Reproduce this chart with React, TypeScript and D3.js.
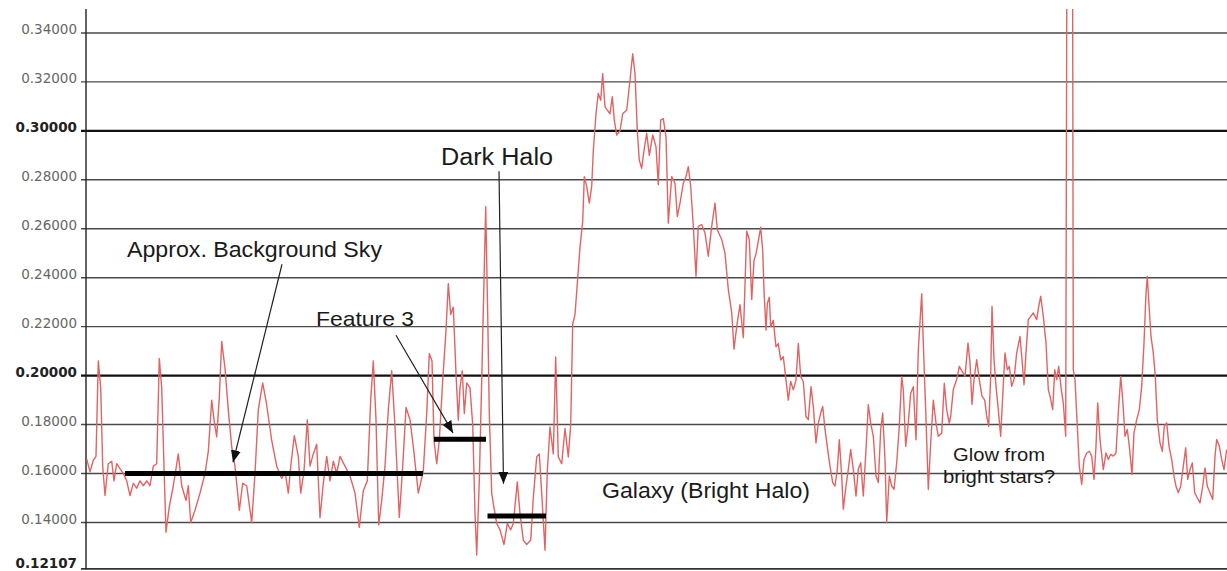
import React from "react";
import * as d3 from "d3";

// Profile samples: [position along profile, intensity]
const skyProfile: [number, number][] = [
  [0.7, 0.166], [4, 0.1607], [7.3, 0.1654], [10, 0.167], [12.3, 0.206], [14.7, 0.195], [16.7, 0.163],
  [19, 0.151], [22.3, 0.164], [25.7, 0.165], [28, 0.157], [30.7, 0.164], [34, 0.162], [37.3, 0.16],
  [40.7, 0.157], [44, 0.151], [47.3, 0.156], [50.7, 0.154], [54, 0.157], [57.3, 0.155], [60.7, 0.157],
  [64, 0.155], [67.3, 0.163], [70.7, 0.164], [73.3, 0.207], [75.7, 0.195], [78, 0.163], [80, 0.136],
  [83.3, 0.1465], [87.3, 0.155], [92.3, 0.168], [95.7, 0.155], [100, 0.149], [102.3, 0.155], [104.7, 0.14],
  [109, 0.145], [114, 0.152], [119, 0.16], [122.3, 0.169], [125.7, 0.19], [128, 0.182], [130.7, 0.175],
  [133.3, 0.191], [135.7, 0.214], [139, 0.203], [142.3, 0.186], [145.7, 0.171], [149, 0.163], [153.3, 0.145],
  [156.7, 0.156], [160.7, 0.155], [165.7, 0.14], [169, 0.16], [172.3, 0.186], [176.7, 0.197], [180.7, 0.188],
  [185.7, 0.1735], [190.7, 0.163], [195.7, 0.158], [199, 0.161], [202.3, 0.152], [205, 0.164], [208.3, 0.1755],
  [212.3, 0.167], [214.7, 0.152], [218, 0.161], [221.3, 0.182], [224, 0.163], [227.3, 0.168], [230.7, 0.172],
  [234, 0.142], [237.3, 0.156], [240.7, 0.167], [244, 0.157], [247.3, 0.165], [250.7, 0.16], [254, 0.167],
  [259, 0.163], [264, 0.159], [269, 0.152], [273.3, 0.138], [277.3, 0.153], [281.3, 0.157], [284.7, 0.19],
  [287.3, 0.206], [290, 0.182], [292.7, 0.139], [295.7, 0.149], [299, 0.163], [302.3, 0.186], [305.7, 0.202],
  [309, 0.179], [313.3, 0.142], [316.7, 0.163], [320, 0.187], [324, 0.182], [327.3, 0.171], [332.3, 0.152],
];

const featureProfile: [number, number][] = [
  [337.3, 0.161], [340.7, 0.1845], [343.3, 0.209], [346, 0.206], [348, 0.1736], [350.7, 0.164], [353.3, 0.1736],
  [356.7, 0.198], [360, 0.2185], [362.3, 0.2376], [364.7, 0.225], [367.3, 0.228], [370, 0.2008], [372.3, 0.1818],
  [374, 0.195], [376.3, 0.202], [378.3, 0.1845], [380.7, 0.197], [384, 0.195], [386.7, 0.18], [389, 0.1437],
  [390.7, 0.1267], [393.3, 0.157], [395.7, 0.198], [398, 0.239], [399.7, 0.269], [401.7, 0.225], [403.3, 0.1845],
];

const darkHaloProfile: [number, number][] = [
  [405.7, 0.152], [408, 0.146], [410.7, 0.1396], [414, 0.137], [418, 0.131], [421.3, 0.1396], [424.7, 0.137],
  [427.3, 0.1396], [431.3, 0.1566], [434, 0.1437], [437.3, 0.1328], [440.7, 0.131], [444.7, 0.1328], [447.3, 0.15],
  [450.7, 0.1668], [453.3, 0.168], [455.7, 0.152], [459, 0.1287], [461.3, 0.161], [464, 0.179], [467.3, 0.168],
  [469.7, 0.2076], [472.3, 0.1668], [475.7, 0.164], [479, 0.1784], [482.3, 0.1668], [484.7, 0.18],
];

const galaxyProfile: [number, number][] = [
  [486.7, 0.221], [489, 0.225], [491.3, 0.2376], [494, 0.2525], [496.7, 0.263], [498.3, 0.2813], [500.7, 0.2773],
  [503.3, 0.2705], [505.7, 0.2773], [507.3, 0.292], [510, 0.307], [512.3, 0.3153], [514.7, 0.3125], [516.7, 0.3234],
  [519, 0.3098], [521.3, 0.3085], [524, 0.307], [526.3, 0.314], [528.3, 0.3044], [530.7, 0.2983], [534, 0.3],
  [536.7, 0.307], [540.7, 0.3085], [544, 0.3207], [546.7, 0.3315], [549, 0.3234], [551.3, 0.3], [553.3, 0.288],
  [555.7, 0.2847], [558, 0.292], [560.7, 0.299], [563.3, 0.29], [566.7, 0.2983], [570, 0.2935], [572.3, 0.278],
  [574.7, 0.3044], [577.3, 0.305], [580, 0.2976], [582.3, 0.2623], [585.7, 0.2813], [589, 0.2786], [591.3, 0.265],
  [594, 0.2705], [597.3, 0.2786], [600, 0.2813], [602.3, 0.2854], [604.7, 0.2773], [607.3, 0.261], [610, 0.2406],
  [612.3, 0.261], [615.7, 0.2617], [619, 0.2583], [622.3, 0.2488], [625.7, 0.261], [629, 0.2705], [631.3, 0.2596],
  [635.7, 0.2556], [639, 0.25], [642.3, 0.2352], [645.7, 0.2257], [648, 0.2108], [650.7, 0.22], [654, 0.229],
  [657.3, 0.2155], [660.7, 0.259], [663.3, 0.2556], [665.7, 0.2311], [668, 0.247], [670, 0.2497], [672.3, 0.255],
  [674.7, 0.2606], [676.7, 0.251], [678, 0.2348], [680, 0.2186], [681.3, 0.2294], [683.3, 0.232], [684.7, 0.22],
  [687.3, 0.2226], [690, 0.2118], [692.3, 0.2131], [694.7, 0.2064], [697.3, 0.2077], [700, 0.1982], [702.3, 0.19],
  [704.7, 0.1976], [707.3, 0.1942], [710, 0.1982], [712.3, 0.2131], [714.7, 0.1996], [717.3, 0.1976], [720, 0.1833],
  [722.3, 0.182], [725, 0.1955], [727.3, 0.1874], [730, 0.1725], [732.3, 0.1806], [734.7, 0.1847], [736.7, 0.1874],
  [739, 0.178], [741.7, 0.1698], [744, 0.163], [746.7, 0.1563], [749, 0.1549], [751.3, 0.1617], [753.3, 0.1738],
  [755.7, 0.159], [757.3, 0.1454], [760, 0.1549], [762.3, 0.1617], [764.7, 0.1698], [767.3, 0.1617], [770, 0.1508],
  [772.3, 0.1617], [774.7, 0.1644], [777.3, 0.1508], [780, 0.1698], [782.3, 0.1881], [784.7, 0.1806], [787.3, 0.1752],
  [790, 0.159], [792.3, 0.1563], [794.7, 0.1779], [796.7, 0.1847], [799, 0.1657], [800.7, 0.14], [803.3, 0.159],
  [805.7, 0.1549], [808, 0.1535], [810.7, 0.1644], [813.3, 0.1793], [815.7, 0.1996], [817.3, 0.1942], [819.7, 0.1711],
  [822.3, 0.1806], [824.7, 0.1928], [827.3, 0.1955], [830, 0.1738], [832.3, 0.2104], [834.7, 0.2267], [835.7, 0.2335],
  [837.3, 0.2131], [839.7, 0.186], [842.3, 0.1535], [844.7, 0.1725], [847.3, 0.19], [850, 0.1806], [852.3, 0.1752],
  [855.7, 0.1765], [858.3, 0.1969], [860.7, 0.186], [863.3, 0.1806],
];

const starGlowProfile: [number, number][] = [
  [864.7, 0.1834], [867.3, 0.1943], [870.7, 0.1984], [873.3, 0.2038], [876, 0.2018], [879, 0.1997], [882, 0.2133],
  [884, 0.2052], [886, 0.1882], [888, 0.1984], [890.7, 0.2065], [893.3, 0.1984], [896, 0.1916], [898.7, 0.19],
  [900.7, 0.1834], [902.7, 0.1793], [904.7, 0.1997], [906, 0.2283], [908, 0.2065], [910, 0.1956], [912.3, 0.1861],
  [914.7, 0.1752], [916.7, 0.1916], [919, 0.2093], [921.3, 0.2024], [923.3, 0.2038], [925.7, 0.1956], [928, 0.1984],
  [930.7, 0.2093], [934, 0.216], [936, 0.2065], [938, 0.1963], [940, 0.2093], [942.3, 0.2229], [944.7, 0.2242],
  [947.3, 0.2256], [950.7, 0.2229], [952.7, 0.2283], [954.7, 0.2324], [957.3, 0.2242], [960, 0.2133], [962.3, 0.1943],
  [964, 0.1916], [966.7, 0.1861], [968.7, 0.2024], [970.7, 0.1984], [972.7, 0.2038], [975.3, 0.1943], [977.3, 0.1888],
  [979.7, 0.1752], [981, 0.39], [982.5, 0.43], [985, 0.42], [986.5, 0.39], [987.3, 0.2024],
];

const outerProfile: [number, number][] = [
  [989, 0.1984], [991.3, 0.1793], [993.3, 0.163], [995.7, 0.1555], [998, 0.1657], [1000.7, 0.1684], [1003.3, 0.1691],
  [1005.7, 0.1671], [1008, 0.1576], [1010, 0.1712], [1011.7, 0.1888], [1014, 0.1739], [1017.3, 0.1616], [1020, 0.1684],
  [1022.3, 0.1657], [1024.7, 0.1678], [1027.3, 0.1671], [1030, 0.1684], [1032.3, 0.1848], [1034.7, 0.1997],
  [1036.7, 0.1902], [1039, 0.1752], [1041.3, 0.178], [1043.3, 0.1712], [1046, 0.1596], [1048, 0.1766], [1050.7, 0.182],
  [1053.3, 0.1861], [1055.7, 0.1956], [1058, 0.2133], [1060, 0.2337], [1061.3, 0.2405], [1063.3, 0.2269], [1065, 0.216],
  [1067.3, 0.2093], [1069.3, 0.1997], [1071.3, 0.182], [1074, 0.1725], [1076.3, 0.1691], [1078.3, 0.1793],
  [1080.7, 0.1807], [1083, 0.1712], [1085.7, 0.1657], [1088, 0.1589], [1090, 0.1548], [1092.3, 0.1521], [1094.7, 0.1548],
  [1097.3, 0.163], [1099.7, 0.1705], [1101.7, 0.1576], [1104, 0.1616], [1106.3, 0.1643], [1108.7, 0.1521],
  [1111.3, 0.1501], [1114, 0.148], [1116.7, 0.1548], [1119, 0.1623], [1121.3, 0.1548], [1124, 0.1521], [1126.7, 0.1494],
  [1129, 0.1671], [1130.7, 0.1739], [1133.3, 0.1712], [1135.7, 0.1657], [1138, 0.1616], [1140.7, 0.1698],
];

const tickValues = [0.14, 0.16, 0.18, 0.2, 0.22, 0.24, 0.26, 0.28, 0.3, 0.32, 0.34];
const boldTicks = [0.3, 0.2];
const minValue = 0.12107;
const maxValue = 0.35;
const profileLength = 1141;

// Annotation bars: [start, end, level]
const levelBars: [number, number, number][] = [
  [39, 337, 0.16],
  [348, 400, 0.174],
  [401.5, 460, 0.1426],
];

// Arrows: [fromPos, fromVal, toPos, toVal]
const arrows: [number, number, number, number][] = [
  [196, 0.2455, 147, 0.1646],
  [310, 0.2165, 367, 0.1766],
  [413, 0.2835, 417.5, 0.1558],
];

// Labels: text, position, value, font size, target width, anchor
const labels: { text: string; pos: number; val: number; size: number; width: number; anchor: string }[] = [
  { text: "Approx. Background Sky", pos: 41, val: 0.2483, size: 22, width: 255, anchor: "start" },
  { text: "Feature 3", pos: 230, val: 0.2202, size: 21, width: 98, anchor: "start" },
  { text: "Dark Halo", pos: 355, val: 0.2859, size: 23, width: 112, anchor: "start" },
  { text: "Galaxy (Bright Halo)", pos: 516, val: 0.1498, size: 22, width: 208, anchor: "start" },
  { text: "Glow from", pos: 913, val: 0.1651, size: 19, width: 92, anchor: "middle" },
  { text: "bright stars?", pos: 913, val: 0.1561, size: 19, width: 112, anchor: "middle" },
];

const W = 1227;
const H = 571;
const left = 86;
const top = 8.5;
const bottom = 568.8;

export default function App() {
  const x = d3.scaleLinear().domain([0, profileLength]).range([left, W]);
  const y = d3.scaleLinear().domain([minValue, maxValue]).range([bottom, top]);

  const profile = [
    ...skyProfile,
    ...featureProfile,
    ...darkHaloProfile,
    ...galaxyProfile,
    ...starGlowProfile,
    ...outerProfile,
  ];
  const line = d3
    .line<[number, number]>()
    .x((d) => x(d[0]))
    .y((d) => y(d[1]))
    .curve(d3.curveLinear);

  const fmt = d3.format(".5f");

  return (
    <svg
      width={W}
      height={H}
      style={{ position: "absolute", left: 0, top: 0, background: "#fff" }}
    >
      <defs>
        <clipPath id="plotClip">
          <rect x={left} y={y(maxValue) + 0.5} width={W - left} height={bottom - y(maxValue)} />
        </clipPath>
        <marker id="arrowHead" viewBox="0 0 12 10" refX="12" refY="5" markerWidth="12" markerHeight="10" markerUnits="userSpaceOnUse" orient="auto">
          <path d="M0,0 L12,5 L0,10 Z" fill="#111" />
        </marker>
      </defs>

      {/* gridlines */}
      {tickValues.map((t) => {
        const bold = boldTicks.some((b) => Math.abs(b - t) < 1e-9);
        return (
          <line
            key={t}
            x1={left - 5}
            x2={W}
            y1={y(t)}
            y2={y(t)}
            stroke={bold ? "#111" : "#4a4a4a"}
            strokeWidth={bold ? 2.2 : 1.4}
          />
        );
      })}
      <line x1={left - 5} x2={W} y1={y(minValue)} y2={y(minValue)} stroke="#333" strokeWidth={1.8} />
      <line x1={left} x2={left} y1={y(maxValue) + 0.5} y2={y(minValue)} stroke="#222" strokeWidth={1.4} />

      {/* tick labels */}
      {[...tickValues, minValue].map((t) => {
        const bold = t === minValue || boldTicks.some((b) => Math.abs(b - t) < 1e-9);
        return (
          <text
            key={"l" + t}
            x={left - 9}
            y={Math.min(y(t) + 1.5, y(minValue) - 0.5)}
            textAnchor="end"
            fontFamily="'DejaVu Sans', Verdana, sans-serif"
            fontSize={13.5}
            fontWeight={bold ? "bold" : "normal"}
            fill={bold ? "#222" : "#666"}
          >
            {t === minValue ? "0.12107" : fmt(t)}
          </text>
        );
      })}

      {/* profile */}
      <g clipPath="url(#plotClip)">
        <path d={line(profile) || ""} fill="none" stroke="#e06464" strokeWidth={1.4} strokeLinejoin="round" />
      </g>

      {/* level bars */}
      {levelBars.map((b, i) => (
        <line key={"b" + i} x1={x(b[0])} x2={x(b[1])} y1={y(b[2])} y2={y(b[2])} stroke="#000" strokeWidth={5} />
      ))}

      {/* arrows */}
      {arrows.map((a, i) => (
        <line
          key={"a" + i}
          x1={x(a[0])}
          y1={y(a[1])}
          x2={x(a[2])}
          y2={y(a[3])}
          stroke="#222"
          strokeWidth={1.2}
          markerEnd="url(#arrowHead)"
        />
      ))}

      {/* annotation texts */}
      {labels.map((l, i) => (
        <text
          key={"t" + i}
          x={x(l.pos)}
          y={y(l.val)}
          textAnchor={l.anchor}
          fontFamily="'Liberation Sans', Arial, sans-serif"
          fontSize={l.size}
          fill="#1a1a1a"
          textLength={l.width}
          lengthAdjust="spacingAndGlyphs"
        >
          {l.text}
        </text>
      ))}
    </svg>
  );
}
